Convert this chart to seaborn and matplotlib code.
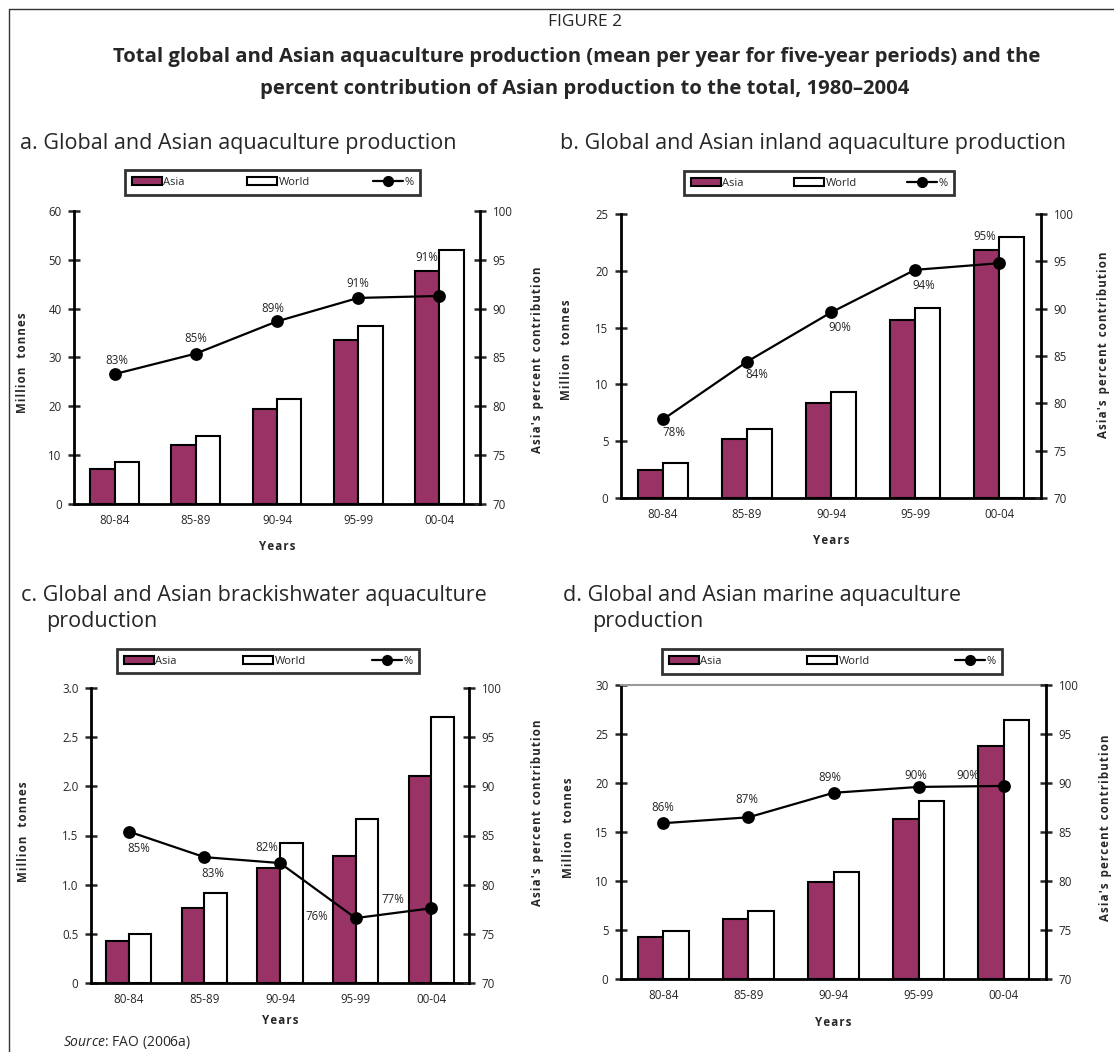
"""
Figure 2 - global vs Asian aquaculture production, four panels.
Bars = Asia / World (million tonnes), line = Asia's share (%).
"""

import matplotlib
matplotlib.use("Agg")
import matplotlib.pyplot as plt
import numpy as np
import pandas as pd
import seaborn as sns
from matplotlib.lines import Line2D
from matplotlib.patches import Patch

periods = ["80-84", "85-89", "90-94", "95-99", "00-04"]

# a. total
asia_total = [7.2, 12.1, 19.5, 33.5, 47.7]
world_total = [8.6, 14.0, 21.6, 36.5, 52.1]
pct_total = [83.3, 85.4, 88.7, 91.1, 91.3]
pct_total_lbl = ["83%", "85%", "89%", "91%", "91%"]

# b. inland
asia_inland = [2.5, 5.2, 8.4, 15.7, 21.8]
world_inland = [3.05, 6.1, 9.3, 16.7, 23.0]
pct_inland = [78.3, 84.4, 89.6, 94.1, 94.8]
pct_inland_lbl = ["78%", "84%", "90%", "94%", "95%"]

# c. brackishwater
asia_brackish = [0.43, 0.76, 1.17, 1.29, 2.11]
world_brackish = [0.50, 0.92, 1.42, 1.67, 2.71]
pct_brackish = [85.4, 82.8, 82.2, 76.6, 77.6]
pct_brackish_lbl = ["85%", "83%", "82%", "76%", "77%"]

# d. marine
asia_marine = [4.25, 6.1, 9.9, 16.3, 23.8]
world_marine = [4.85, 6.95, 10.9, 18.2, 26.4]
pct_marine = [85.9, 86.5, 89.0, 89.6, 89.7]
pct_marine_lbl = ["86%", "87%", "89%", "90%", "90%"]

W, H = 1114, 1052
PLUM = "#993366"
PALETTE = {"Asia": PLUM, "World": "white"}
TICK_FS = 8.3

sns.set_style("white")
plt.rcParams["font.family"] = ["Open Sans", "DejaVu Sans"]
plt.rcParams["mathtext.fontset"] = "custom"
plt.rcParams["mathtext.rm"] = "Open Sans"
plt.rcParams["mathtext.it"] = "Open Sans:italic"

fig = plt.figure(figsize=(W / 100, H / 100), dpi=100)


def fx(x):
    return x / W


def fy(y):
    return 1 - y / H


def spaced(s):
    # the original axis titles are letter-spaced
    return "\u200a".join(s)


def panel(box, asia, world, pct, pct_lbl, offsets, ymax, ystep, yfmt,
          leg_box, ylab_l, ylab_r, years_y, grey_top=False):
    x0, y0, x1, y1 = box
    ax = fig.add_axes([fx(x0), fy(y1), fx(x1 - x0), (y1 - y0) / H])

    df = pd.DataFrame({
        "period": periods * 2,
        "series": ["Asia"] * len(periods) + ["World"] * len(periods),
        "value": asia + world,
    })
    sns.barplot(data=df, x="period", y="value", hue="series",
                palette=PALETTE, saturation=1, width=0.6,
                edgecolor="black", linewidth=1.5, legend=False, ax=ax)

    ax2 = ax.twinx()
    sns.pointplot(x=periods, y=pct, color="black", errorbar=None,
                  markersize=8, linewidth=1.6, ax=ax2)
    for i, (p, t) in enumerate(zip(pct, pct_lbl)):
        ax2.annotate(t, (i, p), xytext=offsets[i], textcoords="offset pixels",
                     ha="center", va="center", fontsize=TICK_FS)

    ax.set_xlim(-0.5, len(periods) - 0.5)
    ax.set_ylim(0, ymax)
    ticks = np.arange(0, ymax + ystep / 2, ystep)
    ax.set_yticks(ticks, [yfmt(t) for t in ticks])
    ax2.set_ylim(70, 100)
    ax2.set_yticks(np.arange(70, 101, 5))

    ax.set_xticks(range(len(periods)), periods)
    ax.set_xticks(np.arange(-0.5, len(periods)), minor=True)
    ax.tick_params(axis="x", which="major", length=0, pad=7, labelsize=TICK_FS)
    ax.tick_params(axis="x", which="minor", direction="inout", length=9, width=1.8)
    ax.tick_params(axis="y", direction="inout", length=8, width=1.8,
                   labelsize=TICK_FS, pad=5)
    ax2.tick_params(axis="y", direction="inout", length=8, width=1.8,
                    labelsize=TICK_FS, pad=5)
    ax.set_xlabel("")
    ax.set_ylabel("")
    ax2.set_ylabel("")

    for s in ["left", "bottom"]:
        ax.spines[s].set_linewidth(2)
        ax.spines[s].set_color("black")
    ax.spines["right"].set_visible(False)
    for s in ["left", "bottom", "top"]:
        ax2.spines[s].set_visible(False)
    ax2.spines["right"].set_linewidth(2)
    ax2.spines["right"].set_color("black")
    if grey_top:
        ax.spines["top"].set_color("#999999")
        ax.spines["top"].set_linewidth(1.5)
    else:
        ax.spines["top"].set_visible(False)

    cx = (x0 + x1) / 2
    fig.text(fx(cx), fy(years_y), spaced("Years"), ha="center", va="center",
             fontsize=TICK_FS, fontweight="bold")
    fig.text(fx(ylab_l[0]), fy(ylab_l[1]), spaced("Million") + "   " + spaced("tonnes"),
             rotation=90, ha="center", va="center", fontsize=TICK_FS,
             fontweight="bold")
    fig.text(fx(ylab_r[0]), fy(ylab_r[1]),
             "  ".join(spaced(w) for w in "Asia's percent contribution".split()),
             rotation=90, ha="center", va="center", fontsize=TICK_FS,
             fontweight="bold")

    handles = [
        Patch(facecolor=PLUM, edgecolor="black", linewidth=1.5),
        Patch(facecolor="white", edgecolor="black", linewidth=1.5),
        Line2D([], [], color="black", marker="o", markersize=7, linewidth=1.6),
    ]
    lx0, ly0, lx1, ly1 = leg_box
    leg = fig.legend(handles, ["Asia", "World", "%"], loc="center",
                     bbox_to_anchor=(fx(lx0), fy(ly1), fx(lx1 - lx0), (ly1 - ly0) / H),
                     bbox_transform=fig.transFigure, mode="expand", ncol=3,
                     fontsize=8, frameon=True, fancybox=False,
                     edgecolor="black", handlelength=2.7, handleheight=0.75,
                     handletextpad=0.15, borderpad=0.6, borderaxespad=0)
    leg.get_frame().set_linewidth(2)
    return ax, ax2


def plain(t):
    return f"{t:g}"


def one_dec(t):
    return "0" if t == 0 else f"{t:.1f}"


panel((74, 211, 480, 504), asia_total, world_total, pct_total, pct_total_lbl,
      [(2, 14), (0, 15), (-4, 13), (0, 14), (-13, 38)], 60, 10, plain,
      (125, 169, 420, 196), (23, 363), (538, 360), 546)

panel((621, 214, 1041, 498), asia_inland, world_inland, pct_inland, pct_inland_lbl,
      [(11, -13), (10, -13), (9, -15), (9, -16), (-14, 27)], 25, 5, plain,
      (684, 169, 954, 197), (567, 350), (1103, 345), 540)

panel((91, 688, 469, 983), asia_brackish, world_brackish, pct_brackish, pct_brackish_lbl,
      [(10, -17), (8, -16), (-13, 16), (-39, 2), (-38, 9)], 3.0, 0.5, one_dec,
      (117, 646, 419, 676), (24, 832), (538, 813), 1020)

panel((621, 685, 1046, 979), asia_marine, world_marine, pct_marine, pct_marine_lbl,
      [(-1, 16), (-2, 18), (-4, 15), (-3, 11), (-36, 10)], 30, 5, plain,
      (662, 647, 1002, 676), (569, 828), (1105, 828), 1022, grey_top=True)

# headings
fig.text(fx(585), fy(22), "FIGURE 2", ha="center", va="center", fontsize=12.5)
fig.text(fx(577), fy(57), "Total global and Asian aquaculture production "
         "(mean per year for five-year periods) and the",
         ha="center", va="center", fontsize=14.6, fontweight="bold")
fig.text(fx(585), fy(89), "percent contribution of Asian production to the total, 1980\u20132004",
         ha="center", va="center", fontsize=14.6, fontweight="bold")

TITLE_FS = 15.5
fig.text(fx(20), fy(143), "a. Global and Asian aquaculture production",
         ha="left", va="center", fontsize=TITLE_FS)
fig.text(fx(560), fy(143), "b. Global and Asian inland aquaculture production",
         ha="left", va="center", fontsize=TITLE_FS)
fig.text(fx(21), fy(595), "c. Global and Asian brackishwater aquaculture",
         ha="left", va="center", fontsize=TITLE_FS)
fig.text(fx(46), fy(622), "production", ha="left", va="center", fontsize=TITLE_FS)
fig.text(fx(563), fy(595), "d. Global and Asian marine aquaculture",
         ha="left", va="center", fontsize=TITLE_FS)
fig.text(fx(592), fy(622), "production", ha="left", va="center", fontsize=TITLE_FS)

fig.text(fx(63), fy(1046), r"$\it{Source}$: FAO (2006a)", ha="left",
         va="baseline", fontsize=10)

# page frame (open on right and bottom)
fig.add_artist(Line2D([fx(9), 1], [fy(9), fy(9)], color="#333333", lw=1))
fig.add_artist(Line2D([fx(9), fx(9)], [fy(9), 0], color="#333333", lw=1))

fig.savefig("out.png", dpi=100)
